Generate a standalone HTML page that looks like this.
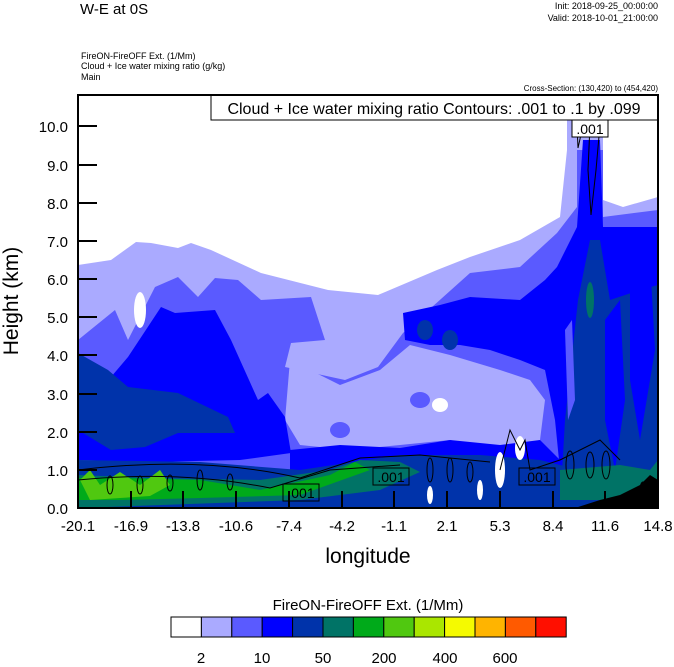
<!DOCTYPE html>
<html><head><meta charset="utf-8"><style>
body{margin:0;background:#fff;width:674px;height:667px;overflow:hidden}
svg{display:block;font-family:"Liberation Sans",sans-serif}
</style></head><body>
<svg width="674" height="667" viewBox="0 0 674 667">
<text x="80" y="14" font-size="15">W-E at 0S</text>
<text x="658" y="9" font-size="9" text-anchor="end">Init: 2018-09-25_00:00:00</text>
<text x="658" y="21" font-size="9" text-anchor="end">Valid: 2018-10-01_21:00:00</text>
<text x="81" y="59" font-size="9">FireON-FireOFF Ext.   (1/Mm)</text>
<text x="81" y="69" font-size="9">Cloud + Ice water mixing ratio   (g/kg)</text>
<text x="81" y="80" font-size="9">Main</text>
<text x="658" y="91" font-size="8" text-anchor="end">Cross-Section: (130,420) to (454,420)</text>
<defs><clipPath id="c"><rect x="78" y="95" width="580" height="413"/></clipPath></defs>
<g clip-path="url(#c)">
<polygon fill="#aaaaff" points="78,265 111,260 136,242 151,243 178,248 191,243 211,250 261,273 328,290 378,295 437,270 470,257 520,240 560,217 567,150 567,120 603,120 603,200 623,207 658,197 658,508 78,508"/>
<polygon fill="#5a5aff" points="78,340 115,310 128,340 155,287 178,277 198,297 215,278 238,280 261,300 311,297 325,340 291,343 285,367 345,380 378,367 403,333 470,273 520,267 557,233 577,207 577,150 603,150 603,217 658,210 658,508 78,508"/>
<ellipse cx="140" cy="310" rx="6" ry="18" fill="#fff"/>
<!-- light middle region -->
<polygon fill="#aaaaff" points="290,360 340,385 380,370 410,345 450,355 500,370 530,380 545,400 540,440 500,450 450,440 400,445 350,450 300,445 285,420"/>
<ellipse cx="440" cy="405" rx="8" ry="7" fill="#fff"/>
<ellipse cx="340" cy="430" rx="10" ry="8" fill="#5a5aff"/>
<ellipse cx="420" cy="400" rx="10" ry="8" fill="#5a5aff"/>
<!-- blue left -->
<polygon fill="#0000ff" points="78,357 111,377 128,357 161,307 175,313 215,310 231,340 258,400 268,393 285,417 291,453 240,460 150,462 78,460"/>
<!-- blue right band and column -->
<polygon fill="#0000ff" points="403,313 440,305 470,297 520,300 545,280 557,267 577,227 583,140 600,140 603,227 658,227 658,470 560,470 555,420 545,370 520,360 490,350 460,345 430,345 405,340"/>
<polygon fill="#0000ff" points="290,450 340,445 400,448 450,440 500,445 540,440 560,460 560,480 290,480"/>
<polygon fill="#0033aa" points="78,353 108,370 128,387 178,393 228,417 235,433 178,433 145,447 111,450 78,430"/>
<polygon fill="#0033aa" points="578,300 590,240 600,240 610,300 640,290 658,285 658,508 560,508 565,420"/>
<polygon fill="#0000ff" points="605,320 620,300 625,400 615,470 605,420"/>
<polygon fill="#0000ff" points="630,270 650,260 655,350 640,440 630,380"/>
<polygon fill="#5a5aff" points="565,330 572,320 575,400 568,420"/>
<ellipse cx="590" cy="300" rx="4" ry="18" fill="#007366"/>
<ellipse cx="425" cy="330" rx="8" ry="10" fill="#0033aa"/>
<ellipse cx="450" cy="340" rx="8" ry="10" fill="#0033aa"/>
<polygon fill="#0033aa" points="78,460 200,462 300,470 400,455 480,455 540,460 580,470 580,508 78,508"/>
<polygon fill="#007366" points="78,475 150,478 260,480 330,470 360,460 400,462 420,472 380,490 300,500 78,508"/>
<polygon fill="#007366" points="560,470 620,465 650,470 658,460 658,495 600,500 560,500"/>
<polygon fill="#00aa1a" points="78,478 120,478 200,480 260,490 330,475 355,462 370,470 300,495 200,498 120,500 78,500"/>
<polygon fill="#50c810" points="80,480 90,470 100,485 120,472 140,485 160,470 170,485 150,496 120,498 90,500"/>
<ellipse cx="500" cy="470" rx="5" ry="18" fill="#fff"/>
<ellipse cx="520" cy="448" rx="5" ry="12" fill="#fff"/>
<ellipse cx="480" cy="490" rx="3" ry="10" fill="#fff"/>
<ellipse cx="430" cy="495" rx="3" ry="9" fill="#fff"/>
<polygon fill="#000" points="575,508 600,500 620,495 640,485 650,475 658,480 658,508"/>
<g fill="none" stroke="#000" stroke-width="1">
<path d="M78,470 Q200,455 300,478 L360,458 L420,455 L490,462"/>
<path d="M78,480 Q180,470 270,488 L330,470 L400,465"/>
<path d="M500,470 L510,430 L520,450 L525,440 L530,470 L560,460 L600,440 L620,460"/>
<path d="M590,125 L588,170 L591,215 L596,170 L600,125"/>
<path d="M577,125 L578,148 L582,130"/>
<ellipse cx="110" cy="485" rx="3" ry="9"/><ellipse cx="140" cy="485" rx="3" ry="9"/>
<ellipse cx="170" cy="483" rx="3" ry="8"/><ellipse cx="200" cy="480" rx="3" ry="10"/>
<ellipse cx="230" cy="482" rx="3" ry="8"/><ellipse cx="430" cy="470" rx="3" ry="12"/>
<ellipse cx="450" cy="470" rx="3" ry="12"/><ellipse cx="470" cy="472" rx="3" ry="10"/>
<ellipse cx="570" cy="465" rx="4" ry="14"/><ellipse cx="590" cy="465" rx="4" ry="13"/>
<ellipse cx="606" cy="465" rx="4" ry="14"/><ellipse cx="643" cy="490" rx="3" ry="8"/>
</g>
<g font-size="14" text-anchor="middle">
<rect x="283" y="484" width="36" height="17" fill="none" stroke="#000"/><text x="301" y="498">.001</text>
<rect x="373" y="468" width="36" height="17" fill="none" stroke="#000"/><text x="391" y="482">.001</text>
<rect x="519" y="468" width="36" height="17" fill="none" stroke="#000"/><text x="537" y="482">.001</text>
<rect x="572" y="120" width="36" height="17" fill="#fff" stroke="#000"/><text x="590" y="134">.001</text>
</g>
</g>
<rect x="211" y="95" width="447" height="25" fill="#fff" stroke="#000"/>
<text x="434" y="114" font-size="16" text-anchor="middle">Cloud + Ice water mixing ratio Contours: .001 to .1 by .099</text>
<rect x="78" y="95" width="580" height="413" fill="none" stroke="#000" stroke-width="2"/>
<g stroke="#000" stroke-width="2">
<line x1="78" y1="508" x2="97" y2="508"/><line x1="78" y1="470" x2="97" y2="470"/><line x1="78" y1="432" x2="97" y2="432"/><line x1="78" y1="394" x2="97" y2="394"/><line x1="78" y1="355" x2="97" y2="355"/><line x1="78" y1="317" x2="97" y2="317"/><line x1="78" y1="279" x2="97" y2="279"/><line x1="78" y1="241" x2="97" y2="241"/><line x1="78" y1="203" x2="97" y2="203"/><line x1="78" y1="165" x2="97" y2="165"/><line x1="78" y1="126" x2="97" y2="126"/>
<line x1="131" y1="508" x2="131" y2="491"/><line x1="183" y1="508" x2="183" y2="491"/><line x1="236" y1="508" x2="236" y2="491"/><line x1="289" y1="508" x2="289" y2="491"/><line x1="342" y1="508" x2="342" y2="491"/><line x1="394" y1="508" x2="394" y2="491"/><line x1="447" y1="508" x2="447" y2="491"/><line x1="500" y1="508" x2="500" y2="491"/><line x1="553" y1="508" x2="553" y2="491"/><line x1="605" y1="508" x2="605" y2="491"/>
</g>
<g font-size="15" text-anchor="end">
<text x="68" y="514">0.0</text><text x="68" y="476">1.0</text><text x="68" y="438">2.0</text><text x="68" y="400">3.0</text><text x="68" y="361">4.0</text><text x="68" y="323">5.0</text><text x="68" y="285">6.0</text><text x="68" y="247">7.0</text><text x="68" y="209">8.0</text><text x="68" y="171">9.0</text><text x="68" y="132">10.0</text>
</g>
<g font-size="15" text-anchor="middle">
<text x="78" y="531">-20.1</text><text x="131" y="531">-16.9</text><text x="183" y="531">-13.8</text><text x="236" y="531">-10.6</text><text x="289" y="531">-7.4</text><text x="342" y="531">-4.2</text><text x="394" y="531">-1.1</text><text x="447" y="531">2.1</text><text x="500" y="531">5.3</text><text x="553" y="531">8.4</text><text x="605" y="531">11.6</text><text x="658" y="531">14.8</text>
</g>
<text x="368" y="563" font-size="21" text-anchor="middle">longitude</text>
<text transform="translate(18,301) rotate(-90)" font-size="21" text-anchor="middle">Height (km)</text>
<text x="368" y="610" font-size="15" text-anchor="middle">FireON-FireOFF Ext.  (1/Mm)</text>
<g stroke="#000" stroke-width="1">
<rect x="171" y="617" width="30.4" height="20" fill="#ffffff"/>
<rect x="201.4" y="617" width="30.4" height="20" fill="#aaaaff"/>
<rect x="231.8" y="617" width="30.4" height="20" fill="#5a5aff"/>
<rect x="262.2" y="617" width="30.4" height="20" fill="#0000ff"/>
<rect x="292.6" y="617" width="30.4" height="20" fill="#0033aa"/>
<rect x="323" y="617" width="30.4" height="20" fill="#007366"/>
<rect x="353.4" y="617" width="30.4" height="20" fill="#00aa1a"/>
<rect x="383.8" y="617" width="30.4" height="20" fill="#50c810"/>
<rect x="414.2" y="617" width="30.4" height="20" fill="#aae600"/>
<rect x="444.6" y="617" width="30.4" height="20" fill="#f5fa00"/>
<rect x="475" y="617" width="30.4" height="20" fill="#ffb400"/>
<rect x="505.4" y="617" width="30.4" height="20" fill="#ff5a00"/>
<rect x="535.8" y="617" width="30.4" height="20" fill="#ff0f00"/>
</g>
<g font-size="15" text-anchor="middle">
<text x="201" y="663">2</text><text x="262" y="663">10</text><text x="323" y="663">50</text><text x="384" y="663">200</text><text x="445" y="663">400</text><text x="505" y="663">600</text>
</g>
</svg>
</body></html>
